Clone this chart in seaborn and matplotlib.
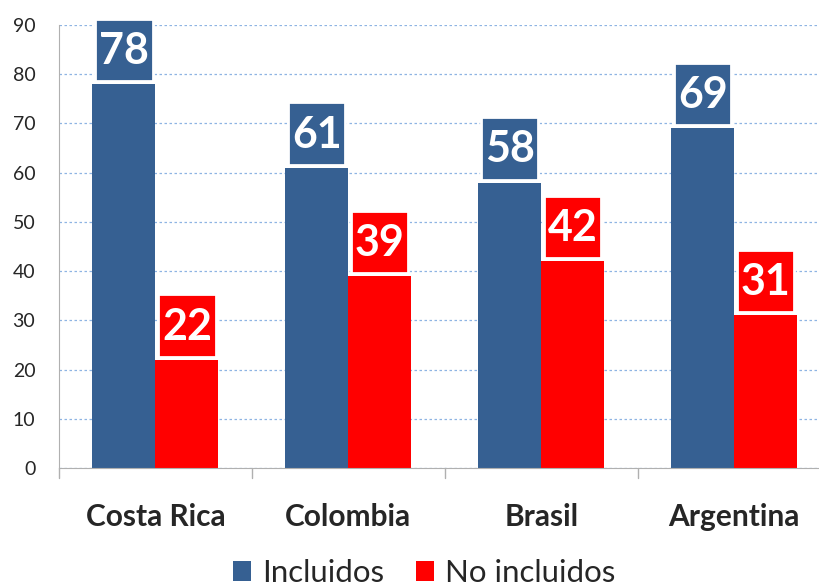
import matplotlib
matplotlib.use("Agg")
import matplotlib.pyplot as plt
import seaborn as sns
import pandas as pd
from matplotlib.patches import Rectangle

countries = ["Costa Rica", "Colombia", "Brasil", "Argentina"]
incluidos = [78, 61, 58, 69]
no_incluidos = [22, 39, 42, 31]
series_names = ["Incluidos", "No incluidos"]
yticks = [0, 10, 20, 30, 40, 50, 60, 70, 80, 90]

df = pd.DataFrame({
    "País": countries * 2,
    "Serie": [series_names[0]] * 4 + [series_names[1]] * 4,
    "Valor": incluidos + no_incluidos,
})

sns.set_style("white")
plt.rcParams["font.family"] = ["Lato", "DejaVu Sans"]

BLUE = "#366092"
RED = "#FF0000"

fig = plt.figure(figsize=(8.19, 5.87), dpi=100)
ax = fig.add_axes([0.072, 0.2027, 0.928, 0.7546])

sns.barplot(data=df, x="País", y="Valor", hue="Serie", order=countries,
            hue_order=series_names, palette=[BLUE, RED], width=0.653,
            saturation=1, ax=ax, legend=True, linewidth=0)

ax.set_ylim(0, 90)
ax.set_xlim(-0.5, 3.44)
ax.set_yticks(yticks)
ax.set_yticklabels([str(v) for v in yticks], fontsize=14)
ax.set_xticks(range(len(countries)))
ax.set_xticklabels(countries, fontsize=21.5, fontweight="bold")
ax.tick_params(axis="x", length=0, pad=25)
ax.tick_params(axis="y", length=7, width=1, color="#B0B0B0", pad=10, direction="out")
ax.set_xlabel("")
ax.set_ylabel("")

# category boundary ticks
for b in [-0.5, 0.5, 1.5, 2.5]:
    ax.plot([b, b], [0, -2.0], color="#B0B0B0", lw=1, clip_on=False)

ax.yaxis.grid(True, color="#8EB4E3", linestyle=(0, (2, 2)), linewidth=0.9)
ax.set_axisbelow(True)
for s in ["top", "right"]:
    ax.spines[s].set_visible(False)
ax.spines["left"].set_color("#B0B0B0")
ax.spines["bottom"].set_color("#B0B0B0")

# value label boxes
for patch in ax.patches:
    h = patch.get_height()
    if h <= 0 or patch.get_width() <= 0:
        continue
    x0 = patch.get_x()
    w = patch.get_width()
    color = patch.get_facecolor()
    inset = w * 0.045
    bx = x0 + inset
    bw = w - 2 * inset
    by = h + 0.6
    bh = 12.7
    ax.add_patch(Rectangle((bx, by), bw, bh, facecolor=color, edgecolor="white",
                           linewidth=2, clip_on=False, zorder=5))
    ax.text(x0 + w / 2, by + bh / 2 - 0.2, f"{int(round(h))}", ha="center", va="center",
            color="white", fontsize=31, fontweight="bold", zorder=6)

handles, labels = ax.get_legend_handles_labels()
ax.legend_.remove()
fig.legend(handles, labels, loc="center", bbox_to_anchor=(0.518, 0.024), ncol=2,
           frameon=False, fontsize=22.5, handlelength=0.6, handleheight=0.6,
           handletextpad=0.35, columnspacing=1.0)

fig.savefig("out.png", dpi=100)
